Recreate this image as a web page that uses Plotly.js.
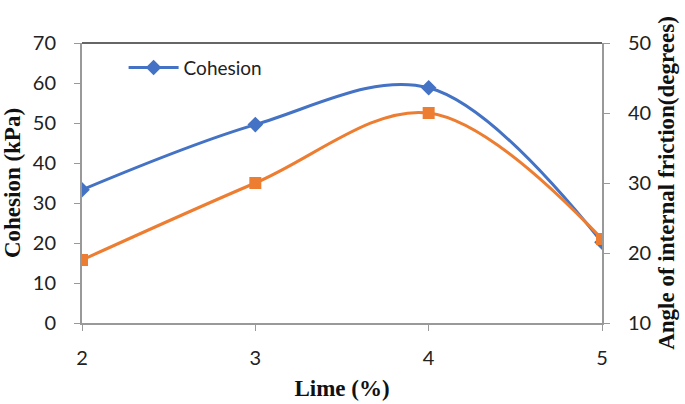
<!DOCTYPE html>
<html><head><meta charset="utf-8">
<script src="https://cdn.plot.ly/plotly-3.0.1.min.js"></script>
<style>html,body{margin:0;padding:0;background:#fff}#chart{width:685px;height:404px}</style>
</head><body><div id="chart"></div>
<script>
const lime = [2, 3, 4, 5];
const cohesion = [33.3, 49.6, 58.8, 20.2];
const friction = [19, 30, 40, 22];
const xTicks = [2, 3, 4, 5];

const tickFont = {family: 'Lato, "Open Sans", sans-serif', size: 20, color: '#222'};
const titleFont = {family: '"Liberation Serif", "Times New Roman", serif', size: 23, color: '#111', weight: 'bold'};

const traces = [
  {x: lime, y: cohesion, name: 'Cohesion', type: 'scatter', mode: 'lines+markers',
   line: {color: '#4472C4', width: 3, shape: 'spline', smoothing: 1},
   marker: {symbol: 'diamond', size: 12, color: '#4472C4'}, yaxis: 'y'},
  {x: lime, y: friction, name: 'Angle of internal friction', type: 'scatter', mode: 'lines+markers',
   line: {color: '#ED7D31', width: 3, shape: 'spline', smoothing: 1},
   marker: {symbol: 'square', size: 12, color: '#ED7D31'}, yaxis: 'y2', showlegend: false}
];

const layout = {
  width: 685, height: 404,
  margin: {l: 82, r: 83, t: 43, b: 81},
  paper_bgcolor: '#fff', plot_bgcolor: '#fff',
  showlegend: true,
  legend: {x: 0.08, y: 0.98, xanchor: 'left', yanchor: 'top', bgcolor: 'rgba(0,0,0,0)',
           font: {family: 'Lato, "Open Sans", sans-serif', size: 19, color: '#222'}, itemwidth: 50},
  xaxis: {range: [2, 5], tickvals: xTicks, ticks: 'outside', ticklen: 6, tickcolor: '#999',
          showline: true, linecolor: '#999', linewidth: 2, showgrid: false, zeroline: false,
          tickfont: tickFont, ticklabelstandoff: 10,
          title: {text: 'Lime (%)', font: titleFont, standoff: 12}},
  yaxis: {range: [0, 70], dtick: 10, ticks: 'outside', ticklen: 6, tickcolor: '#999',
          showline: true, linecolor: '#999', linewidth: 2, showgrid: false, zeroline: false,
          tickfont: tickFont, ticklabelstandoff: 14,
          title: {text: 'Cohesion (kPa)', font: titleFont, standoff: 8}},
  yaxis2: {range: [10, 50], dtick: 10, overlaying: 'y', side: 'right', ticks: 'outside', ticklen: 6, tickcolor: '#999',
           showline: true, linecolor: '#999', linewidth: 2, showgrid: false, zeroline: false,
           tickfont: tickFont, ticklabelstandoff: 14,
           title: {text: 'Angle of internal friction(degrees)', font: titleFont, standoff: 8}},
  shapes: [{type: 'line', xref: 'paper', yref: 'paper', x0: 0, x1: 1, y0: 1, y1: 1,
            line: {color: '#333', width: 1.5}, layer: 'below'}]
};

Plotly.newPlot('chart', traces, layout, {displayModeBar: false, staticPlot: true});
</script></body></html>
